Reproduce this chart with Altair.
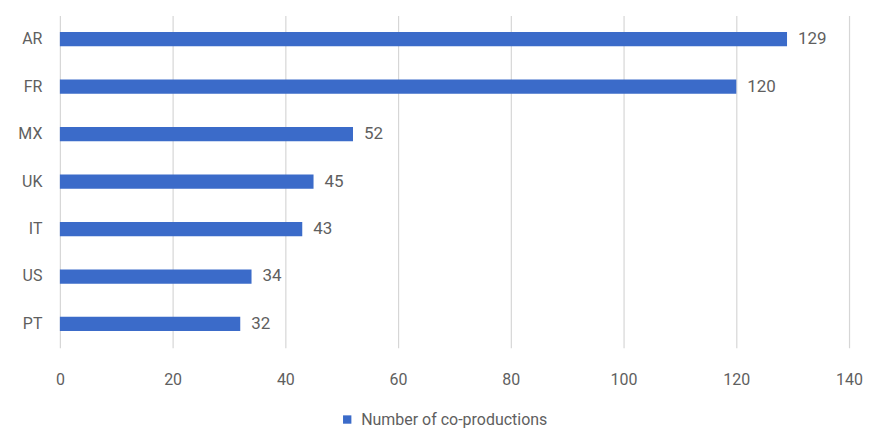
import altair as alt
import pandas as pd

countries = ["AR", "FR", "MX", "UK", "IT", "US", "PT"]
values = [129, 120, 52, 45, 43, 34, 32]
series = ["Number of co-productions"] * len(countries)

df = pd.DataFrame({"country": countries, "value": values, "series": series})

FONT = "Roboto"
TEXT = "#5f5f5f"
BLUE = "#3b6bc9"

base = alt.Chart(df)

bars = base.mark_bar(color=BLUE).encode(
    y=alt.Y("country:N", sort=countries, title=None,
            scale=alt.Scale(paddingInner=0.70, paddingOuter=0.35),
            axis=alt.Axis(labelFont=FONT, labelFontSize=16, labelColor=TEXT,
                          labelPadding=18, ticks=False, domain=False, grid=False)),
    x=alt.X("value:Q", title=None,
            scale=alt.Scale(domain=[0, 140], nice=False),
            axis=alt.Axis(values=[0, 20, 40, 60, 80, 100, 120, 140],
                          labelFont=FONT, labelFontSize=16, labelColor=TEXT,
                          labelPadding=24, labelFlush=False, ticks=False, domain=False,
                          grid=True, gridColor="#d6d6d6", gridWidth=1.2)),
    color=alt.Color("series:N", title=None,
                    scale=alt.Scale(range=[BLUE]),
                    legend=alt.Legend(orient="none", legendX=280, legendY=397,
                                      symbolType="square", symbolSize=70,
                                      symbolStrokeWidth=0, labelLimit=500,
                                      labelFont=FONT, labelFontSize=16,
                                      labelColor=TEXT, padding=0,
                                      labelOffset=6)),
)

labels = base.mark_text(align="left", baseline="middle", dx=11,
                        font=FONT, fontSize=17, color=TEXT).encode(
    y=alt.Y("country:N", sort=countries),
    x=alt.X("value:Q"),
    text=alt.Text("value:Q"),
)

chart = (bars + labels).properties(
    width=791, height=333,
    background="white",
    autosize=alt.AutoSizeParams(type="none"),
    padding={"left": 52, "top": 7, "right": 14, "bottom": 81},
).configure_view(stroke=None, strokeWidth=0)

chart.save("out.html", embed_options={"renderer": "svg", "actions": False})
